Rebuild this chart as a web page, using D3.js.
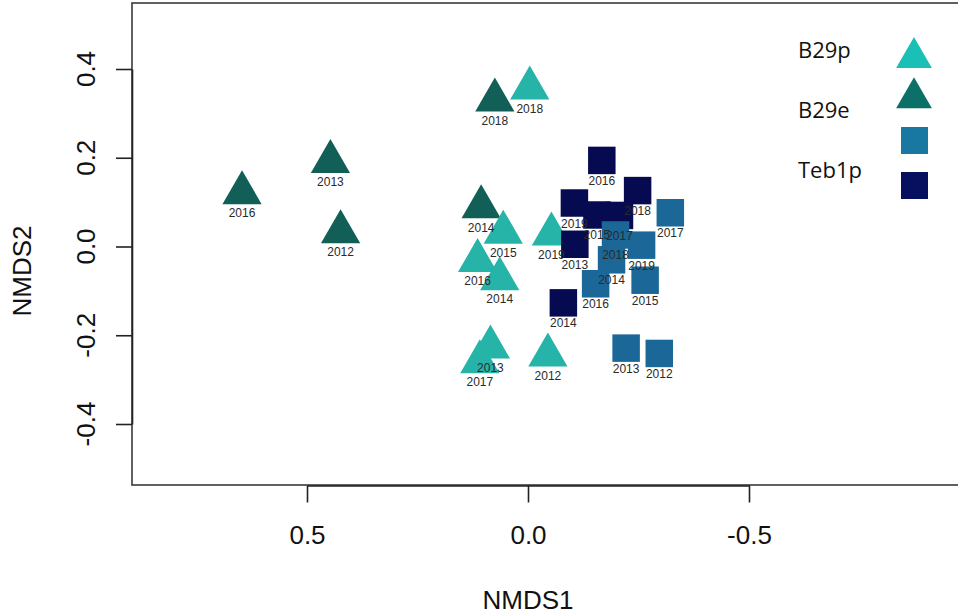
<!DOCTYPE html>
<html>
<head>
<meta charset="utf-8">
<script src="https://cdn.jsdelivr.net/npm/d3@7/dist/d3.min.js"></script>
<style>
  html, body { margin: 0; padding: 0; background: #fff; }
  svg { display: block; }
</style>
</head>
<body>
<svg id="chart" width="958" height="614"></svg>
<script>
// ---- Data ----
const xTicks = [0.5, 0.0, -0.5];
const yTicks = [0.4, 0.2, 0.0, -0.2, -0.4];

const groupNames = ["B29e", "B29p", "Teb1p", "Teb1e"];
const groupShapes = ["triangle", "triangle", "square", "square"];
const plotColors = ["#115f56", "#25b4a7", "#1b6797", "#060b51"];
const legendLabels = ["B29p", "B29e", "Teb1p"];
const legendColors = ["#1abfb5", "#0b7068", "#1878a2", "#07105f"];
const legendShapes = ["triangle", "triangle", "square", "square"];

// B29e (dark triangles)
const b29eYears = ["2016", "2013", "2012", "2018", "2014"];
const b29eX = [0.647, 0.447, 0.424, 0.075, 0.106];
const b29eY = [0.121, 0.191, 0.033, 0.330, 0.089];

// B29p (light triangles)
const b29pYears = ["2018", "2015", "2019", "2016", "2014", "2013", "2017", "2012"];
const b29pX = [-0.004, 0.056, -0.053, 0.114, 0.064, 0.085, 0.109, -0.045];
const b29pY = [0.357, 0.032, 0.028, -0.032, -0.073, -0.227, -0.260, -0.245];

// Teb1p navy squares
const navyYears = ["2016", "2018", "2019", "2015", "2017", "2013", "2014"];
const navyX = [-0.167, -0.248, -0.105, -0.156, -0.207, -0.106, -0.080];
const navyY = [0.194, 0.126, 0.098, 0.071, 0.070, 0.005, -0.127];

// blue squares
const blueYears = ["2017", "2018", "2019", "2014", "2016", "2015", "2013", "2012"];
const blueX = [-0.322, -0.198, -0.257, -0.189, -0.153, -0.265, -0.222, -0.297];
const blueY = [0.076, 0.026, 0.003, -0.030, -0.084, -0.076, -0.229, -0.241];

// ---- Build ----
const svg = d3.select("#chart");
const x = d3.scaleLinear().domain([0.5, -0.5]).range([307, 749]);
const y = d3.scaleLinear().domain([0.4, -0.4]).range([69, 424]);
const box = { left: 132, top: 3, right: 1000, bottom: 485 };

const groups = [
  { years: b29eYears, xs: b29eX, ys: b29eY, gi: 0 },
  { years: b29pYears, xs: b29pX, ys: b29pY, gi: 1 },
  { years: navyYears, xs: navyX, ys: navyY, gi: 3 },
  { years: blueYears, xs: blueX, ys: blueY, gi: 2 }
];

const triPlot = d3.symbol(d3.symbolTriangle, 667);
const sqPlot = d3.symbol(d3.symbolSquare, 756);

// plot box
svg.append("rect")
  .attr("x", box.left).attr("y", box.top)
  .attr("width", box.right - box.left).attr("height", box.bottom - box.top)
  .attr("fill", "none").attr("stroke", "#3a3a3a").attr("stroke-width", 1.6);

// x axis
const gx = svg.append("g").attr("transform", `translate(0,${box.bottom + 0.5})`)
  .call(d3.axisBottom(x).tickValues(xTicks).tickSize(17).tickSizeOuter(0).tickFormat(d => d.toFixed(1)));
gx.select(".domain").attr("stroke", "#222").attr("stroke-width", 1.6);
gx.selectAll(".tick line").attr("stroke", "#222").attr("stroke-width", 1.6);
gx.selectAll(".tick text")
  .attr("y", 58).attr("dy", 0)
  .attr("font-family", "Liberation Sans, Arial, sans-serif")
  .attr("font-size", 26).attr("fill", "#111");

// y axis
const gy = svg.append("g").attr("transform", `translate(${box.left},0)`)
  .call(d3.axisLeft(y).tickValues(yTicks).tickSize(16).tickSizeOuter(0).tickFormat(d => d.toFixed(1)));
gy.select(".domain").attr("stroke", "#222").attr("stroke-width", 1.6);
gy.selectAll(".tick line").attr("stroke", "#222").attr("stroke-width", 1.6);
gy.selectAll(".tick text").remove();
svg.append("g").selectAll("text").data(yTicks).join("text")
  .attr("transform", d => `translate(95,${y(d)}) rotate(-90)`)
  .attr("text-anchor", "middle")
  .attr("font-family", "Liberation Sans, Arial, sans-serif")
  .attr("font-size", 26).attr("fill", "#111")
  .text(d => d.toFixed(1));

// axis titles
svg.append("text")
  .attr("x", 528).attr("y", 609).attr("text-anchor", "middle")
  .attr("font-family", "Liberation Sans, Arial, sans-serif")
  .attr("font-size", 26).attr("fill", "#111").text("NMDS1");
svg.append("text")
  .attr("transform", "translate(31,271) rotate(-90)").attr("text-anchor", "middle")
  .attr("font-family", "Liberation Sans, Arial, sans-serif")
  .attr("font-size", 26).attr("fill", "#111").text("NMDS2");

// points
const pts = svg.append("g");
groups.forEach(g => {
  const data = g.years.map((yr, i) => ({ yr, vx: g.xs[i], vy: g.ys[i] }));
  pts.append("g").selectAll("path").data(data).join("path")
    .attr("transform", d => `translate(${x(d.vx)},${y(d.vy)})`)
    .attr("d", groupShapes[g.gi] === "triangle" ? triPlot() : sqPlot())
    .attr("fill", plotColors[g.gi]);
});
// labels
const lab = svg.append("g");
groups.forEach(g => {
  const data = g.years.map((yr, i) => ({ yr, vx: g.xs[i], vy: g.ys[i] }));
  lab.append("g").selectAll("text").data(data).join("text")
    .attr("x", d => x(d.vx)).attr("y", d => y(d.vy) + 24.5)
    .attr("text-anchor", "middle")
    .attr("font-family", "Liberation Sans, Arial, sans-serif")
    .attr("font-size", 12).attr("fill", "#2a2a2a")
    .text(d => d.yr);
});

// legend
const legText = svg.append("g")
  .attr("font-family", "Open Sans, Noto Sans, sans-serif")
  .attr("font-size", 22).attr("fill", "#111");
const legTextY = [58, 118, 178];
legText.selectAll("text").data(legendLabels).join("text")
  .attr("x", 798).attr("y", (d, i) => legTextY[i]).text(d => d);

const legPos = [[914, 57.7], [914, 98], [914.5, 140.5], [914.5, 185.5]];
const triLeg = d3.symbol(d3.symbolTriangle, 555);
const sqLeg = d3.symbol(d3.symbolSquare, 729);
svg.append("g").selectAll("path").data(legendColors).join("path")
  .attr("transform", (d, i) => `translate(${legPos[i][0]},${legPos[i][1]})`)
  .attr("d", (d, i) => legendShapes[i] === "triangle" ? triLeg() : sqLeg())
  .attr("fill", d => d);
</script>
</body>
</html>
